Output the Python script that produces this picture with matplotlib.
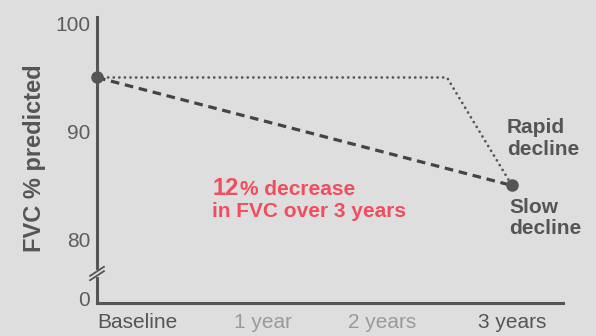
import matplotlib
matplotlib.use('Agg')
import matplotlib.pyplot as plt

# data
slow_x = [0, 3]
slow_y = [95, 85]
rapid_x = [0, 2.53, 3]
rapid_y = [95, 95, 85]
x_ticks = [0, 1.2, 2.06, 3]
x_labels = ['Baseline', '1 year', '2 years', '3 years']
x_label_colors = ['#555555', '#9a9a9a', '#9a9a9a', '#555555']
y_ticks = [74.5, 80, 90, 100]
y_labels = ['0', '80', '90', '100']

bg = '#dedede'
dark = '#555555'
red = '#f04e5e'
W, H = 596, 336

plt.rcParams['font.family'] = ['Liberation Sans', 'DejaVu Sans']

fig = plt.figure(figsize=(W / 100, H / 100), dpi=100, facecolor=bg)
ax = fig.add_axes([97 / W, 1 - 303 / H, (563 - 97) / W, (303 - 17) / H])
ax.set_facecolor(bg)

ax.plot(rapid_x, rapid_y, color=dark, lw=2.0, linestyle=(0, (0.01, 2.0)),
        dash_capstyle='round', clip_on=False)
ax.plot(slow_x, slow_y, color='#444444', lw=2.3, linestyle=(0, (2.7, 1.8)),
        clip_on=False)
ax.plot([slow_x[0], slow_x[-1]], [slow_y[0], slow_y[-1]], 'o', color=dark,
        markersize=8, clip_on=False, zorder=5)

ax.set_xlim(0, 3.369)
ax.set_ylim(74.12, 100.6)

for s in ['top', 'right']:
    ax.spines[s].set_visible(False)
for s in ['left', 'bottom']:
    ax.spines[s].set_color(dark)
    ax.spines[s].set_linewidth(2.2)

ax.set_yticks(y_ticks)
ax.set_yticklabels(y_labels, fontsize=15, color='#5d5d5d')
ax.set_xticks(x_ticks)
ax.set_xticklabels(x_labels, fontsize=15)
for lab, c in zip(ax.get_xticklabels(), x_label_colors):
    lab.set_color(c)
ax.get_xticklabels()[0].set_ha('left')
ax.tick_params(axis='both', length=0)
ax.tick_params(axis='y', pad=5)
ax.tick_params(axis='x', pad=7)

# axis break
dx, dy = 0.05, 0.42
for yc in [77.05, 76.65]:
    ax.plot([-dx, dx], [yc - dy, yc + dy], color=dark, lw=1.3, clip_on=False, zorder=6)
ax.plot([0, 0], [76.72, 76.98], color=bg, lw=3, clip_on=False, zorder=5)

fig.text(35 / W, 1 - 158 / H, 'FVC % predicted', rotation=90, ha='center',
         va='center', fontsize=17, fontweight='bold', color=dark)

fig.text(212 / W, 1 - 195 / H, '12', fontsize=17, fontweight='bold', color=red,
         va='baseline')
fig.text(240 / W, 1 - 195 / H, '% decrease', fontsize=15, fontweight='bold',
         color=red, va='baseline')
fig.text(212 / W, 1 - 217 / H, 'in FVC over 3 years', fontsize=15,
         fontweight='bold', color=red, va='baseline')

fig.text(507 / W, 1 - 133 / H, 'Rapid', fontsize=15, fontweight='bold',
         color=dark, va='baseline')
fig.text(507 / W, 1 - 155 / H, 'decline', fontsize=15, fontweight='bold',
         color=dark, va='baseline')
fig.text(509 / W, 1 - 213 / H, 'Slow', fontsize=15, fontweight='bold',
         color=dark, va='baseline')
fig.text(509 / W, 1 - 234 / H, 'decline', fontsize=15, fontweight='bold',
         color=dark, va='baseline')

fig.savefig('out.png', dpi=100, facecolor=bg)
